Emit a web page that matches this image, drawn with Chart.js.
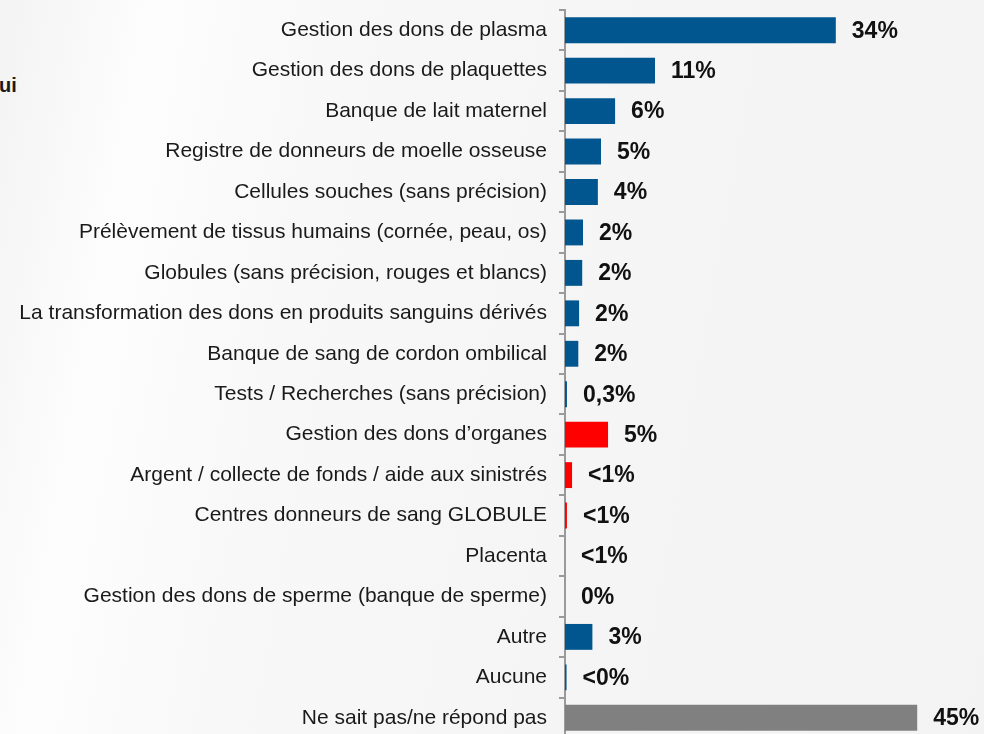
<!DOCTYPE html>
<html lang="fr">
<head>
<meta charset="utf-8">
<title>Organismes associés</title>
<script src="https://cdn.jsdelivr.net/npm/chart.js@4/dist/chart.umd.min.js"></script>
<style>
    html, body {
        margin: 0;
        padding: 0;
        width: 984px;
        height: 734px;
        overflow: hidden;
    }
    body {
        position: relative;
        background: linear-gradient(100deg, #f3f3f3 0%, #fdfdfd 14%, #f8f8f8 30%, #f5f5f5 60%, #f3f3f3 100%);
        font-family: "Liberation Sans", Arial, sans-serif;
    }
    #bout {
        position: absolute;
        left: -1px;
        top: 74px;
        font-weight: bold;
        font-size: 20px;
        color: #1a1a1a;
    }
    #zone {
        position: absolute;
        left: 0;
        top: 0;
        width: 984px;
        height: 742px;
    }
</style>
</head>
<body>
<div id="bout">ui</div>
<div id="zone"><canvas id="graphique"></canvas></div>
<script>
// Données
const categories = [
    'Gestion des dons de plasma',
    'Gestion des dons de plaquettes',
    'Banque de lait maternel',
    'Registre de donneurs de moelle osseuse',
    'Cellules souches (sans précision)',
    'Prélèvement de tissus humains (cornée, peau, os)',
    'Globules (sans précision, rouges et blancs)',
    'La transformation des dons en produits sanguins dérivés',
    'Banque de sang de cordon ombilical',
    'Tests / Recherches (sans précision)',
    'Gestion des dons d\u2019organes',
    'Argent / collecte de fonds / aide aux sinistrés',
    'Centres donneurs de sang GLOBULE',
    'Placenta',
    'Gestion des dons de sperme (banque de sperme)',
    'Autre',
    'Aucune',
    'Ne sait pas/ne répond pas'
];
const valeurs = [34.6, 11.5, 6.4, 4.6, 4.2, 2.3, 2.2, 1.8, 1.7, 0.25, 5.5, 0.9, 0.25, 0, 0, 3.5, 0.2, 45];
const etiquettes = ['34%', '11%', '6%', '5%', '4%', '2%', '2%', '2%', '2%', '0,3%', '5%', '<1%', '<1%', '<1%', '0%', '3%', '<0%', '45%'];
const groupes = ['bleu', 'bleu', 'bleu', 'bleu', 'bleu', 'bleu', 'bleu', 'bleu', 'bleu', 'bleu',
    'rouge', 'rouge', 'rouge', 'rouge', 'bleu', 'bleu', 'bleu', 'gris'];

const couleursGroupes = {
    bleu: '#02568f',
    rouge: '#ff0000',
    gris: '#808080'
};

// Étiquettes de valeur à droite des barres
const pluginEtiquettes = {
    id: 'etiquettes',
    afterDatasetsDraw(chart) {
        const ctx = chart.ctx;
        const meta = chart.getDatasetMeta(0);
        ctx.save();
        ctx.font = 'bold 23px "Liberation Sans", Arial, sans-serif';
        ctx.fillStyle = '#111111';
        ctx.textAlign = 'left';
        ctx.textBaseline = 'middle';
        meta.data.forEach((barre, i) => {
            ctx.fillText(etiquettes[i], barre.x + 16, barre.y + 1);
        });
        ctx.restore();
    }
};

const ctx = document.getElementById('graphique').getContext('2d');
new Chart(ctx, {
    type: 'bar',
    data: {
        labels: categories,
        datasets: [{
            data: valeurs,
            backgroundColor: groupes.map(g => couleursGroupes[g]),
            borderWidth: 0,
            categoryPercentage: 1,
            barPercentage: 0.64
        }]
    },
    options: {
        indexAxis: 'y',
        responsive: true,
        maintainAspectRatio: false,
        animation: false,
        devicePixelRatio: 1,
        layout: {
            padding: { top: 10, bottom: 4, left: 0, right: 12 }
        },
        plugins: {
            legend: { display: false },
            tooltip: { enabled: false }
        },
        scales: {
            x: {
                display: false,
                min: 0,
                max: 52
            },
            y: {
                afterFit(scale) {
                    scale.width = 565;
                    scale.paddingTop = 0;
                    scale.paddingBottom = 0;
                },
                border: {
                    display: true,
                    color: '#9a9a9a',
                    width: 2
                },
                grid: {
                    drawOnChartArea: false,
                    drawTicks: true,
                    tickLength: 6,
                    color: '#9a9a9a',
                    lineWidth: 2
                },
                ticks: {
                    padding: 12,
                    color: '#1a1a1a',
                    font: {
                        family: '"Liberation Sans", Arial, sans-serif',
                        size: 21
                    }
                }
            }
        }
    },
    plugins: [pluginEtiquettes]
});
</script>
</body>
</html>
